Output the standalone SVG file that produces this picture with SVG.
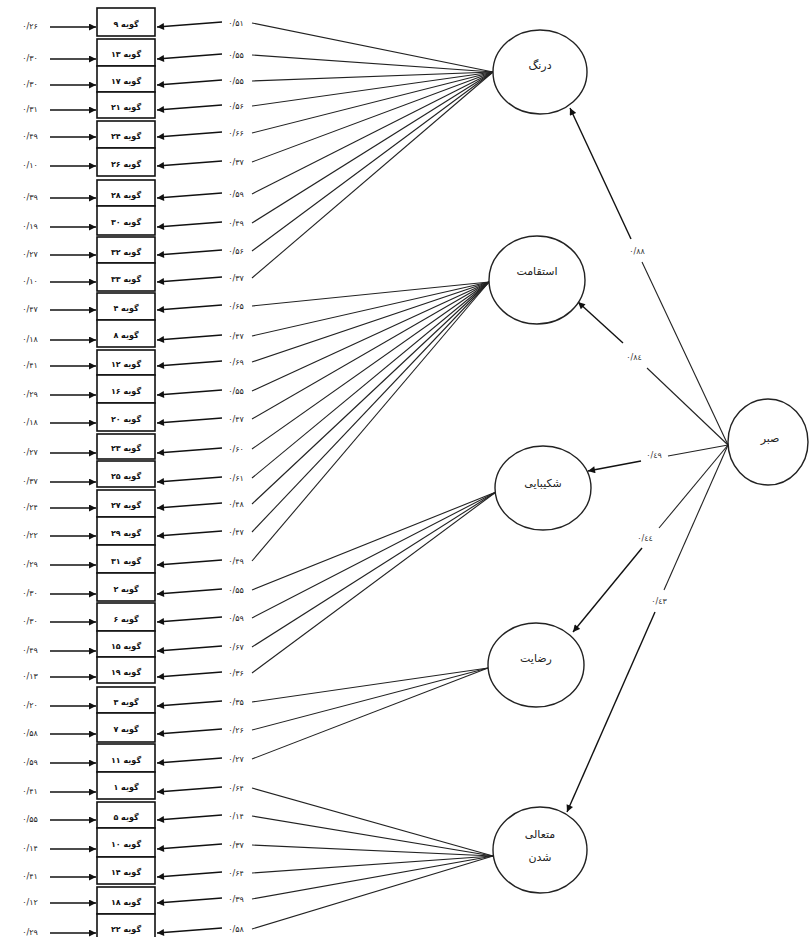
<svg xmlns="http://www.w3.org/2000/svg" width="809" height="937" viewBox="0 0 809 937">
<defs>
<marker id="ah" viewBox="0 0 10 10" refX="10" refY="5" markerWidth="9" markerHeight="7" markerUnits="userSpaceOnUse" orient="auto">
<path d="M0,0 L10,5 L0,10 z" fill="#111"/>
</marker>
</defs>
<style>
.box{fill:#fff;stroke:#111;stroke-width:1.6}
.it{font-family:"DejaVu Sans",sans-serif;font-size:8px;font-weight:bold;fill:#111;text-anchor:middle;dominant-baseline:central}
.lb{font-family:"DejaVu Sans",sans-serif;font-size:8px;fill:#222;text-anchor:middle;dominant-baseline:central}
.sl{font-family:"DejaVu Sans",sans-serif;font-size:8px;fill:#333;text-anchor:middle;dominant-baseline:central}
.ar{stroke:#111;stroke-width:1.4;fill:none;marker-end:url(#ah)}
.ln{stroke:#222;stroke-width:1.1;fill:none}
.lat{fill:#fff;stroke:#222;stroke-width:1.4}
.lt{font-family:"DejaVu Sans",sans-serif;font-size:11px;fill:#222;text-anchor:middle;dominant-baseline:central}
</style>
<rect width="809" height="937" fill="#fff"/>

<g id="connectors">
<g class="ar">
<line x1="50" y1="27" x2="96" y2="27"/>
<line x1="50" y1="59" x2="96" y2="59"/>
<line x1="50" y1="85" x2="96" y2="85"/>
<line x1="50" y1="110" x2="96" y2="110"/>
<line x1="50" y1="137" x2="96" y2="137"/>
<line x1="50" y1="166" x2="96" y2="166"/>
<line x1="50" y1="198" x2="96" y2="198"/>
<line x1="50" y1="227" x2="96" y2="227"/>
<line x1="50" y1="255" x2="96" y2="255"/>
<line x1="50" y1="282" x2="96" y2="282"/>
<line x1="50" y1="310" x2="96" y2="310"/>
<line x1="50" y1="340" x2="96" y2="340"/>
<line x1="50" y1="366" x2="96" y2="366"/>
<line x1="50" y1="395" x2="96" y2="395"/>
<line x1="50" y1="423" x2="96" y2="423"/>
<line x1="50" y1="453" x2="96" y2="453"/>
<line x1="50" y1="482" x2="96" y2="482"/>
<line x1="50" y1="508" x2="96" y2="508"/>
<line x1="50" y1="536" x2="96" y2="536"/>
<line x1="50" y1="565" x2="96" y2="565"/>
<line x1="50" y1="594" x2="96" y2="594"/>
<line x1="50" y1="622" x2="96" y2="622"/>
<line x1="50" y1="651" x2="96" y2="651"/>
<line x1="50" y1="677" x2="96" y2="677"/>
<line x1="50" y1="706" x2="96" y2="706"/>
<line x1="50" y1="734" x2="96" y2="734"/>
<line x1="50" y1="763" x2="96" y2="763"/>
<line x1="50" y1="792" x2="96" y2="792"/>
<line x1="50" y1="820" x2="96" y2="820"/>
<line x1="50" y1="849" x2="96" y2="849"/>
<line x1="50" y1="877" x2="96" y2="877"/>
<line x1="50" y1="903" x2="96" y2="903"/>
<line x1="50" y1="933" x2="96" y2="933"/>
</g>
<g class="lb">
<text x="30" y="26">۰/۲۶</text>
<text x="30" y="58">۰/۳۰</text>
<text x="30" y="84">۰/۳۰</text>
<text x="30" y="109">۰/۳۱</text>
<text x="30" y="136">۰/۴۹</text>
<text x="30" y="165">۰/۱۰</text>
<text x="30" y="197">۰/۳۹</text>
<text x="30" y="226">۰/۱۹</text>
<text x="30" y="254">۰/۲۷</text>
<text x="30" y="281">۰/۱۰</text>
<text x="30" y="309">۰/۴۷</text>
<text x="30" y="339">۰/۱۸</text>
<text x="30" y="365">۰/۴۱</text>
<text x="30" y="394">۰/۲۹</text>
<text x="30" y="422">۰/۱۸</text>
<text x="30" y="452">۰/۲۷</text>
<text x="30" y="481">۰/۳۷</text>
<text x="30" y="507">۰/۲۴</text>
<text x="30" y="535">۰/۲۲</text>
<text x="30" y="564">۰/۲۹</text>
<text x="30" y="593">۰/۳۰</text>
<text x="30" y="621">۰/۳۰</text>
<text x="30" y="650">۰/۴۹</text>
<text x="30" y="676">۰/۱۳</text>
<text x="30" y="705">۰/۲۰</text>
<text x="30" y="733">۰/۵۸</text>
<text x="30" y="762">۰/۵۹</text>
<text x="30" y="791">۰/۴۱</text>
<text x="30" y="819">۰/۵۵</text>
<text x="30" y="848">۰/۱۴</text>
<text x="30" y="876">۰/۴۱</text>
<text x="30" y="902">۰/۱۲</text>
<text x="30" y="932">۰/۲۹</text>
</g>

<g class="ar">
<line x1="222" y1="22" x2="157" y2="27"/>
<line x1="222" y1="54" x2="157" y2="59"/>
<line x1="222" y1="80" x2="157" y2="85"/>
<line x1="222" y1="105" x2="157" y2="110"/>
<line x1="222" y1="132" x2="157" y2="137"/>
<line x1="222" y1="161" x2="157" y2="166"/>
<line x1="222" y1="193" x2="157" y2="198"/>
<line x1="222" y1="222" x2="157" y2="227"/>
<line x1="222" y1="250" x2="157" y2="255"/>
<line x1="222" y1="277" x2="157" y2="282"/>
<line x1="222" y1="305" x2="157" y2="310"/>
<line x1="222" y1="335" x2="157" y2="340"/>
<line x1="222" y1="361" x2="157" y2="366"/>
<line x1="222" y1="390" x2="157" y2="395"/>
<line x1="222" y1="418" x2="157" y2="423"/>
<line x1="222" y1="448" x2="157" y2="453"/>
<line x1="222" y1="477" x2="157" y2="482"/>
<line x1="222" y1="503" x2="157" y2="508"/>
<line x1="222" y1="531" x2="157" y2="536"/>
<line x1="222" y1="560" x2="157" y2="565"/>
<line x1="222" y1="589" x2="157" y2="594"/>
<line x1="222" y1="617" x2="157" y2="622"/>
<line x1="222" y1="646" x2="157" y2="651"/>
<line x1="222" y1="672" x2="157" y2="677"/>
<line x1="222" y1="701" x2="157" y2="706"/>
<line x1="222" y1="729" x2="157" y2="734"/>
<line x1="222" y1="758" x2="157" y2="763"/>
<line x1="222" y1="787" x2="157" y2="792"/>
<line x1="222" y1="815" x2="157" y2="820"/>
<line x1="222" y1="844" x2="157" y2="849"/>
<line x1="222" y1="872" x2="157" y2="877"/>
<line x1="222" y1="898" x2="157" y2="903"/>
<line x1="222" y1="928" x2="157" y2="933"/>
</g>
<g class="lb">
<text x="236" y="23">۰/۵۱</text>
<text x="236" y="55">۰/۵۵</text>
<text x="236" y="81">۰/۵۵</text>
<text x="236" y="106">۰/۵۶</text>
<text x="236" y="133">۰/۶۶</text>
<text x="236" y="162">۰/۳۷</text>
<text x="236" y="194">۰/۵۹</text>
<text x="236" y="223">۰/۴۹</text>
<text x="236" y="251">۰/۵۶</text>
<text x="236" y="278">۰/۳۷</text>
<text x="236" y="306">۰/۶۵</text>
<text x="236" y="336">۰/۴۷</text>
<text x="236" y="362">۰/۶۹</text>
<text x="236" y="391">۰/۵۵</text>
<text x="236" y="419">۰/۴۷</text>
<text x="236" y="449">۰/۶۰</text>
<text x="236" y="478">۰/۶۱</text>
<text x="236" y="504">۰/۴۸</text>
<text x="236" y="532">۰/۴۷</text>
<text x="236" y="561">۰/۴۹</text>
<text x="236" y="590">۰/۵۵</text>
<text x="236" y="618">۰/۵۹</text>
<text x="236" y="647">۰/۶۷</text>
<text x="236" y="673">۰/۳۶</text>
<text x="236" y="702">۰/۳۵</text>
<text x="236" y="730">۰/۲۶</text>
<text x="236" y="759">۰/۲۷</text>
<text x="236" y="788">۰/۶۴</text>
<text x="236" y="816">۰/۱۴</text>
<text x="236" y="845">۰/۳۷</text>
<text x="236" y="873">۰/۶۴</text>
<text x="236" y="899">۰/۳۹</text>
<text x="236" y="929">۰/۵۸</text>
</g>

<g class="ln">
<line x1="252" y1="23" x2="493" y2="72"/>
<line x1="252" y1="55" x2="493" y2="72"/>
<line x1="252" y1="81" x2="493" y2="72"/>
<line x1="252" y1="106" x2="493" y2="72"/>
<line x1="252" y1="133" x2="493" y2="72"/>
<line x1="252" y1="162" x2="493" y2="72"/>
<line x1="252" y1="194" x2="493" y2="72"/>
<line x1="252" y1="223" x2="493" y2="72"/>
<line x1="252" y1="251" x2="493" y2="72"/>
<line x1="252" y1="278" x2="493" y2="72"/>
<line x1="252" y1="306" x2="489" y2="282"/>
<line x1="252" y1="336" x2="489" y2="282"/>
<line x1="252" y1="362" x2="489" y2="282"/>
<line x1="252" y1="391" x2="489" y2="282"/>
<line x1="252" y1="419" x2="489" y2="282"/>
<line x1="252" y1="449" x2="489" y2="282"/>
<line x1="252" y1="478" x2="489" y2="282"/>
<line x1="252" y1="504" x2="489" y2="282"/>
<line x1="252" y1="532" x2="489" y2="282"/>
<line x1="252" y1="561" x2="489" y2="282"/>
<line x1="252" y1="590" x2="496" y2="492"/>
<line x1="252" y1="618" x2="496" y2="492"/>
<line x1="252" y1="647" x2="496" y2="492"/>
<line x1="252" y1="673" x2="496" y2="492"/>
<line x1="252" y1="702" x2="488" y2="668"/>
<line x1="252" y1="730" x2="488" y2="668"/>
<line x1="252" y1="759" x2="488" y2="668"/>
<line x1="252" y1="788" x2="493" y2="856"/>
<line x1="252" y1="816" x2="493" y2="856"/>
<line x1="252" y1="845" x2="493" y2="856"/>
<line x1="252" y1="873" x2="493" y2="856"/>
<line x1="252" y1="899" x2="493" y2="856"/>
<line x1="252" y1="929" x2="493" y2="856"/>
</g>

<g class="ln" stroke-width="1.3">
<line x1="728" y1="445" x2="642" y2="262"/>
<line x1="728" y1="445" x2="647" y2="368"/>
<line x1="728" y1="445" x2="668" y2="456"/>
<line x1="728" y1="445" x2="659" y2="528"/>
<line x1="728" y1="445" x2="664" y2="590"/>
</g>
<g class="ar" stroke-width="1.3">
<line x1="631" y1="239" x2="570" y2="108"/>
<line x1="623" y1="343" x2="578" y2="302"/>
<line x1="641" y1="461" x2="588" y2="471"/>
<line x1="642" y1="548" x2="573" y2="632"/>
<line x1="655" y1="612" x2="567" y2="812"/>
</g>
<g class="sl">
<text x="637" y="251">٠/٨٨</text>
<text x="634" y="357">٠/٨٤</text>
<text x="654" y="455">٠/٤٩</text>
<text x="645" y="538">٠/٤٤</text>
<text x="659" y="601">٠/٤٣</text>
</g>
</g>

<g id="item-9"><rect class="box" x="97" y="8" width="58" height="28"/><text class="it" x="126" y="24">گویه ۹</text></g>
<g id="item-13"><rect class="box" x="97" y="39" width="58" height="27"/><text class="it" x="126" y="54.5">گویه ۱۳</text></g>
<g id="item-17"><rect class="box" x="97" y="66" width="58" height="26"/><text class="it" x="126" y="81">گویه ۱۷</text></g>
<g id="item-21"><rect class="box" x="97" y="92" width="58" height="26"/><text class="it" x="126" y="107">گویه ۲۱</text></g>
<g id="item-24"><rect class="box" x="97" y="121" width="58" height="27"/><text class="it" x="126" y="136.5">گویه ۲۴</text></g>
<g id="item-26"><rect class="box" x="97" y="148" width="58" height="28"/><text class="it" x="126" y="164">گویه ۲۶</text></g>
<g id="item-28"><rect class="box" x="97" y="180" width="58" height="26"/><text class="it" x="126" y="195">گویه ۲۸</text></g>
<g id="item-30"><rect class="box" x="97" y="206" width="58" height="29"/><text class="it" x="126" y="222.5">گویه ۳۰</text></g>
<g id="item-32"><rect class="box" x="97" y="237" width="58" height="26"/><text class="it" x="126" y="252">گویه ۳۲</text></g>
<g id="item-33"><rect class="box" x="97" y="263" width="58" height="28"/><text class="it" x="126" y="279">گویه ۳۳</text></g>
<g id="item-4"><rect class="box" x="97" y="293" width="58" height="27"/><text class="it" x="126" y="308.5">گویه ۴</text></g>
<g id="item-8"><rect class="box" x="97" y="320" width="58" height="27"/><text class="it" x="126" y="335.5">گویه ۸</text></g>
<g id="item-12"><rect class="box" x="97" y="350" width="58" height="25"/><text class="it" x="126" y="364.5">گویه ۱۲</text></g>
<g id="item-16"><rect class="box" x="97" y="375" width="58" height="28"/><text class="it" x="126" y="391">گویه ۱۶</text></g>
<g id="item-20"><rect class="box" x="97" y="403" width="58" height="28"/><text class="it" x="126" y="419">گویه ۲۰</text></g>
<g id="item-23"><rect class="box" x="97" y="434" width="58" height="25"/><text class="it" x="126" y="448.5">گویه ۲۳</text></g>
<g id="item-25"><rect class="box" x="97" y="461" width="58" height="26"/><text class="it" x="126" y="476">گویه ۲۵</text></g>
<g id="item-27"><rect class="box" x="97" y="490" width="58" height="27"/><text class="it" x="126" y="505.5">گویه ۲۷</text></g>
<g id="item-29"><rect class="box" x="97" y="517" width="58" height="28"/><text class="it" x="126" y="533">گویه ۲۹</text></g>
<g id="item-31"><rect class="box" x="97" y="545" width="58" height="28"/><text class="it" x="126" y="561">گویه ۳۱</text></g>
<g id="item-2"><rect class="box" x="97" y="573" width="58" height="28"/><text class="it" x="126" y="589">گویه ۲</text></g>
<g id="item-6"><rect class="box" x="97" y="603" width="58" height="28"/><text class="it" x="126" y="619">گویه ۶</text></g>
<g id="item-15"><rect class="box" x="97" y="631" width="58" height="26"/><text class="it" x="126" y="646">گویه ۱۵</text></g>
<g id="item-19"><rect class="box" x="97" y="657" width="58" height="26"/><text class="it" x="126" y="672">گویه ۱۹</text></g>
<g id="item-3"><rect class="box" x="97" y="687" width="58" height="26"/><text class="it" x="126" y="702">گویه ۳</text></g>
<g id="item-7"><rect class="box" x="97" y="713" width="58" height="29"/><text class="it" x="126" y="729.5">گویه ۷</text></g>
<g id="item-11"><rect class="box" x="97" y="744" width="58" height="28"/><text class="it" x="126" y="760">گویه ۱۱</text></g>
<g id="item-1"><rect class="box" x="97" y="772" width="58" height="27"/><text class="it" x="126" y="787.5">گویه ۱</text></g>
<g id="item-5"><rect class="box" x="97" y="802" width="58" height="26"/><text class="it" x="126" y="817">گویه ۵</text></g>
<g id="item-10"><rect class="box" x="97" y="828" width="58" height="29"/><text class="it" x="126" y="844.5">گویه ۱۰</text></g>
<g id="item-14"><rect class="box" x="97" y="857" width="58" height="27"/><text class="it" x="126" y="872.5">گویه ۱۴</text></g>
<g id="item-18"><rect class="box" x="97" y="887" width="58" height="27"/><text class="it" x="126" y="902.5">گویه ۱۸</text></g>
<g id="item-22"><rect class="box" x="97" y="914" width="58" height="27"/><text class="it" x="126" y="929.5">گویه ۲۲</text></g>

<g id="darang"><ellipse class="lat" cx="540" cy="72" rx="47" ry="42"/><text class="lt" x="540" y="65">درنگ</text></g>
<g id="esteghamat"><ellipse class="lat" cx="537" cy="280" rx="48" ry="44"/><text class="lt" x="537" y="271">استقامت</text></g>
<g id="sabr"><ellipse class="lat" cx="768" cy="442" rx="40" ry="43"/><text class="lt" x="770" y="438">صبر</text></g>
<g id="shakibaei"><ellipse class="lat" cx="543" cy="488" rx="48" ry="42"/><text class="lt" x="543" y="483">شکیبایی</text></g>
<g id="rezayat"><ellipse class="lat" cx="536" cy="665" rx="48" ry="42"/><text class="lt" x="536" y="658">رضایت</text></g>
<g id="motaali"><ellipse class="lat" cx="540" cy="850" rx="47" ry="43"/><text class="lt" x="540" y="834">متعالی</text><text class="lt" x="540" y="857">شدن</text></g>
</svg>
